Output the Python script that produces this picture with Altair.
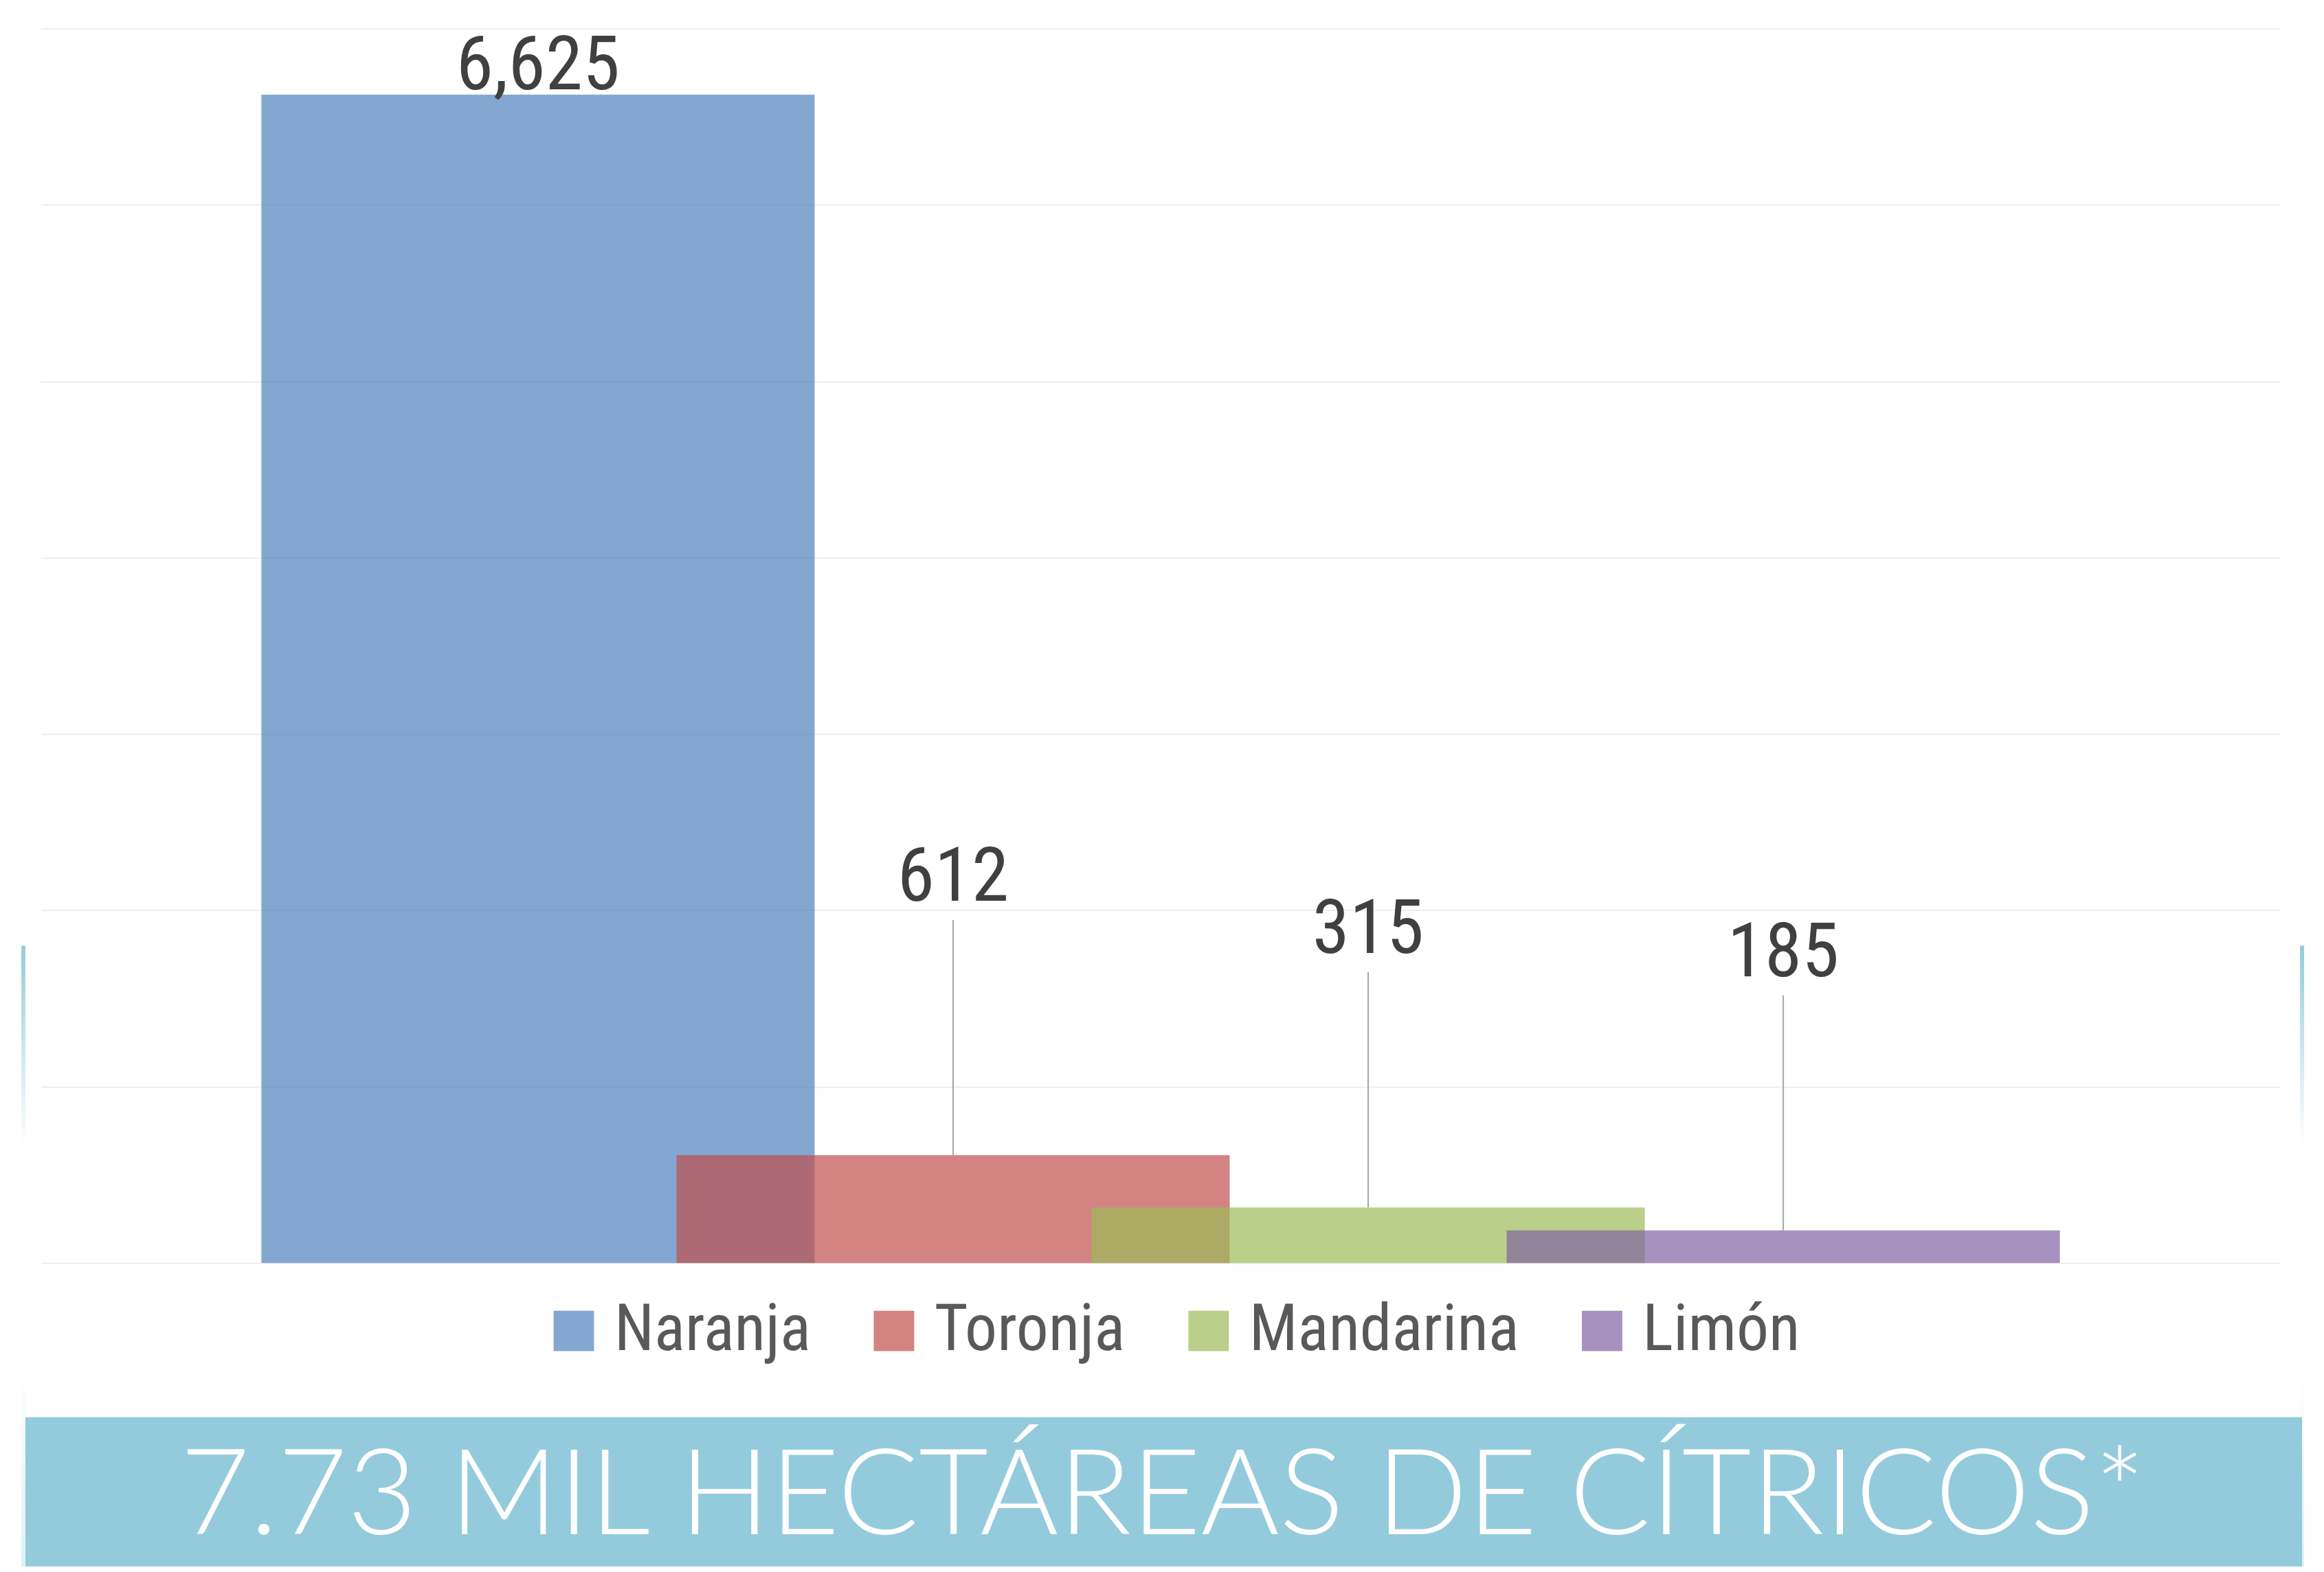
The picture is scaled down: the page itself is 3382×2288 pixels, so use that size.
import altair as alt
import pandas as pd

# ---- data ----
categories = ["Naranja", "Toronja", "Mandarina", "Limón"]
values = [6625, 612, 315, 185]
colors = ["#4F81BD", "#C0504D", "#9BBB59", "#8064A2"]
title_text = ["7.73 MIL HECTÁREAS DE CÍTRICOS*"]
grid_values = [0, 1000, 2000, 3000, 4000, 5000, 6000, 7000]

df = pd.DataFrame({"cultivo": categories, "hectareas": values})
tdf = pd.DataFrame({"t": title_text})

NARROW = "'Roboto Condensed', 'DejaVu Sans Condensed', sans-serif"
W, H = 3266, 1801

x_enc = alt.X("cultivo:N", sort=categories,
              scale=alt.Scale(paddingInner=0, paddingOuter=0.697), axis=None)
y_scale = alt.Scale(domain=[0, 7000], nice=False, zero=True)
y_enc = alt.Y("hectareas:Q", scale=y_scale,
              axis=alt.Axis(values=grid_values, grid=True, gridColor="#EEEEEE",
                            gridWidth=2, labels=False, ticks=False, domain=False,
                            title=None))
color_enc = alt.Color(
    "cultivo:N", sort=categories,
    scale=alt.Scale(domain=categories, range=colors),
    legend=alt.Legend(orient="none", legendX=730, legendY=1853, direction="horizontal",
                      columns=4, title=None, symbolType="square", symbolSize=3481,
                      symbolOpacity=0.7, symbolStrokeWidth=0, labelFont=NARROW,
                      labelFontSize=94, labelColor="#595959", labelOffset=12,
                      columnPadding=74, labelLimit=0, padding=0),
)

bars = alt.Chart(df).mark_bar(width=807, opacity=0.7).encode(x=x_enc, y=y_enc, color=color_enc)

big_label = alt.Chart(df).transform_filter("datum.hectareas > 1000").mark_text(
    font=NARROW, fontSize=110, color="#404040", baseline="alphabetic", dy=-8
).encode(x=alt.X("cultivo:N", sort=categories), y=alt.Y("hectareas:Q"),
         text=alt.Text("hectareas:Q", format=","))

small_label = alt.Chart(df).transform_filter("datum.hectareas <= 1000").mark_text(
    font=NARROW, fontSize=110, color="#404040", baseline="alphabetic", dy=-371
).encode(x=alt.X("cultivo:N", sort=categories), y=alt.Y("hectareas:Q"),
         text=alt.Text("hectareas:Q", format=","))

leaders = alt.Chart(df).transform_filter("datum.hectareas <= 1000").mark_rule(
    color="#A6A6A6", strokeWidth=2, y2Offset=-343
).encode(x=alt.X("cultivo:N", sort=categories), y=alt.Y("hectareas:Q"),
         y2=alt.Y2("hectareas"))

band = alt.Chart(tdf).mark_rect(color="#94CBDC").encode(
    x=alt.value(-23), x2=alt.value(3298), y=alt.value(2026), y2=alt.value(2260))

title = alt.Chart(tdf).mark_text(
    font="Lato", fontWeight=300, fontSize=175, color="white", align="center",
    baseline="alphabetic"
).encode(x=alt.value(1636), y=alt.value(2197), text="t:N")

grad_down = alt.Gradient(gradient="linear", x1=0, y1=0, x2=0, y2=1,
                         stops=[alt.GradientStop(offset=0, color="#94CBDC"),
                                alt.GradientStop(offset=1, color="#FFFFFF")])
grad_up = alt.Gradient(gradient="linear", x1=0, y1=0, x2=0, y2=1,
                       stops=[alt.GradientStop(offset=0, color="#FFFFFF"),
                              alt.GradientStop(offset=1, color="#DDEFF4")])

left_strip = alt.Chart(tdf).mark_rect(color=grad_down).encode(
    x=alt.value(-29), x2=alt.value(-23), y=alt.value(1338), y2=alt.value(1630))
right_strip = alt.Chart(tdf).mark_rect(color=grad_down).encode(
    x=alt.value(3295), x2=alt.value(3301), y=alt.value(1338), y2=alt.value(1630))
left_strip2 = alt.Chart(tdf).mark_rect(color=grad_up).encode(
    x=alt.value(-29), x2=alt.value(-23), y=alt.value(1960), y2=alt.value(2260))
right_strip2 = alt.Chart(tdf).mark_rect(color=grad_up).encode(
    x=alt.value(3295), x2=alt.value(3301), y=alt.value(1960), y2=alt.value(2260))

chart = alt.layer(
    left_strip, right_strip, left_strip2, right_strip2,
    bars, leaders, big_label, small_label, band, title
).properties(
    width=W, height=H,
    autosize=alt.AutoSizeParams(type="none"),
    padding={"left": 52, "top": 31, "right": 56, "bottom": 440},
    background="white",
).configure_view(stroke=None)

chart.save("out.html", embed_options={"renderer": "svg", "actions": False})
